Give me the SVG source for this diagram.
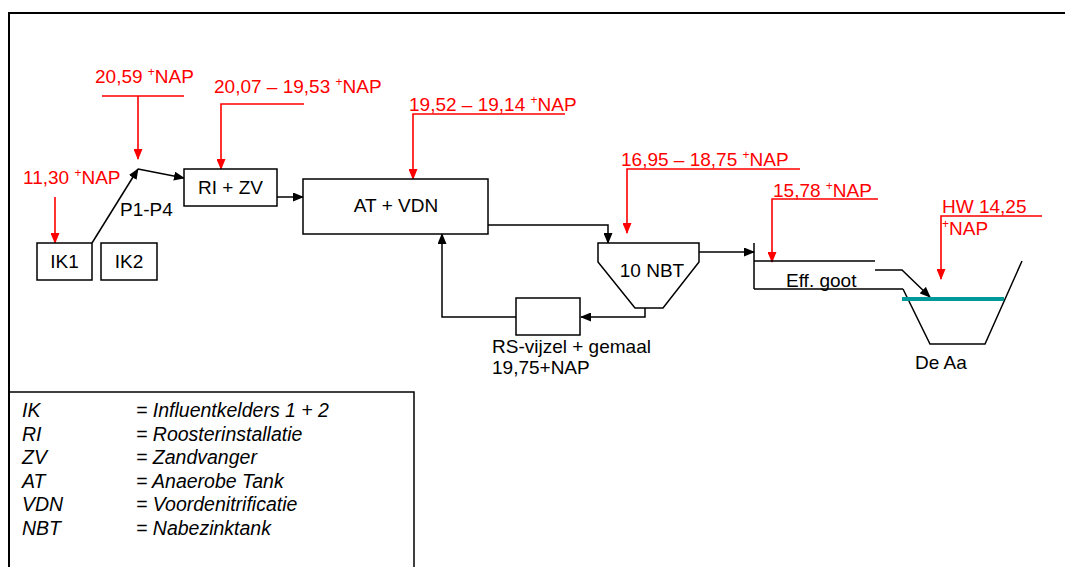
<svg xmlns="http://www.w3.org/2000/svg" width="1065" height="567" viewBox="0 0 1065 567">
<defs>
<style>
text{font-family:"Liberation Sans",Arial,sans-serif;font-size:19px;fill:#000}
.r{fill:#ff0000}
.sup{font-size:12px}
.box{fill:#fff;stroke:#000;stroke-width:1.5}
.bl{fill:none;stroke:#000;stroke-width:1.5}
.rl{fill:none;stroke:#ff0000;stroke-width:1.6}
.lg{font-style:italic;font-size:19.5px}
.mid{text-anchor:middle}
</style>
<marker id="ab" markerUnits="userSpaceOnUse" markerWidth="11" markerHeight="9" refX="10" refY="4.5" orient="auto" viewBox="0 0 11 9"><path d="M0,0 L11,4.5 L0,9 z" fill="#000"/></marker>
<marker id="ar" markerUnits="userSpaceOnUse" markerWidth="11" markerHeight="9" refX="10" refY="4.5" orient="auto" viewBox="0 0 11 9"><path d="M0,0 L11,4.5 L0,9 z" fill="#ff0000"/></marker>
</defs>
<rect width="1065" height="567" fill="#fff"/>
<g id="frame">
<path d="M9,567 V13 H1065" fill="none" stroke="#000" stroke-width="2"/>
</g>
<g id="connectors">
<path class="bl" d="M92,243 L138,169" marker-end="url(#ab)"/>
<path class="bl" d="M138,169 L184,178" marker-end="url(#ab)"/>
<path class="bl" d="M277,197 H303" marker-end="url(#ab)"/>
<path class="bl" d="M488,225 H608 V243" marker-end="url(#ab)"/>
<path class="bl" d="M645,308 V317 H581" marker-end="url(#ab)"/>
<path class="bl" d="M516,317 H442 V234" marker-end="url(#ab)"/>
<path class="bl" d="M699,252 H754" marker-end="url(#ab)"/>
<path class="bl" d="M875,270 H902 L930,297" marker-end="url(#ab)"/>
<path class="rl" d="M55,197 V243" marker-end="url(#ar)"/>
<path class="rl" d="M102,96 H184 M138,96 V159" marker-end="url(#ar)"/>
<path class="rl" d="M304,104 H221 V169" marker-end="url(#ar)"/>
<path class="rl" d="M565,114 H413 V179" marker-end="url(#ar)"/>
<path class="rl" d="M800,169 H627 V233" marker-end="url(#ar)"/>
<path class="rl" d="M878,199 H772 V262" marker-end="url(#ar)"/>
<path class="rl" d="M1042,216 H941 V279" marker-end="url(#ar)"/>
</g>
<g id="labels">
<text class="r" x="23" y="184">11,30 <tspan class="sup" dy="-7">+</tspan><tspan dy="7">NAP</tspan></text>
<text class="r" x="95" y="83">20,59 <tspan class="sup" dy="-7">+</tspan><tspan dy="7">NAP</tspan></text>
<text class="r" x="214" y="93">20,07 – 19,53 <tspan class="sup" dy="-7">+</tspan><tspan dy="7">NAP</tspan></text>
<text class="r" x="409" y="111">19,52 – 19,14 <tspan class="sup" dy="-7">+</tspan><tspan dy="7">NAP</tspan></text>
<text class="r" x="621" y="166">16,95 – 18,75 <tspan class="sup" dy="-7">+</tspan><tspan dy="7">NAP</tspan></text>
<text class="r" x="773" y="197">15,78 <tspan class="sup" dy="-7">+</tspan><tspan dy="7">NAP</tspan></text>
<text class="r" x="942" y="213">HW 14,25</text>
<text class="r" x="942" y="235"><tspan class="sup" dy="-7">+</tspan><tspan dy="7">NAP</tspan></text>
<text x="120" y="216">P1-P4</text>
</g>
<g id="IK1"><rect class="box" x="37" y="243" width="55" height="37"/><text class="mid" x="64.5" y="268">IK1</text></g>
<g id="IK2"><rect class="box" x="101" y="243" width="56" height="37"/><text class="mid" x="129" y="268">IK2</text></g>
<g id="RIZV"><rect class="box" x="184" y="169" width="93" height="37"/><text class="mid" x="230.5" y="194">RI + ZV</text></g>
<g id="ATVDN"><rect class="box" x="303" y="179" width="185" height="55"/><text class="mid" x="396" y="212">AT + VDN</text></g>
<g id="NBT"><polygon class="box" points="598,243 699,243 699,262 663,308 635,308 598,262"/><text class="mid" x="652" y="277">10 NBT</text></g>
<g id="RS"><rect class="box" x="516" y="298" width="64" height="37"/><text x="492" y="353">RS-vijzel + gemaal</text><text x="492" y="374">19,75+NAP</text></g>
<g id="EffGoot">
<path class="bl" d="M754,243 V289 M754,261 H875 M754,289 H903"/>
<text x="786" y="287">Eff. goot</text>
</g>
<g id="DeAa">
<path class="bl" d="M903,289 L930,344 H985 L1022,261"/>
<line x1="902" y1="299" x2="1004" y2="299" stroke="#009999" stroke-width="4"/>
<text x="915" y="369">De Aa</text>
</g>
<g id="legend">
<path d="M9,567 V392 H414 V567" fill="none" stroke="#000" stroke-width="1.5"/>
<text class="lg" x="22" y="417">IK</text><text class="lg" x="136" y="417">= Influentkelders 1 + 2</text>
<text class="lg" x="22" y="440.5">RI</text><text class="lg" x="136" y="440.5">= Roosterinstallatie</text>
<text class="lg" x="22" y="464">ZV</text><text class="lg" x="136" y="464">= Zandvanger</text>
<text class="lg" x="22" y="487.5">AT</text><text class="lg" x="136" y="487.5">= Anaerobe Tank</text>
<text class="lg" x="22" y="511">VDN</text><text class="lg" x="136" y="511">= Voordenitrificatie</text>
<text class="lg" x="22" y="534.5">NBT</text><text class="lg" x="136" y="534.5">= Nabezinktank</text>
</g>
</svg>
